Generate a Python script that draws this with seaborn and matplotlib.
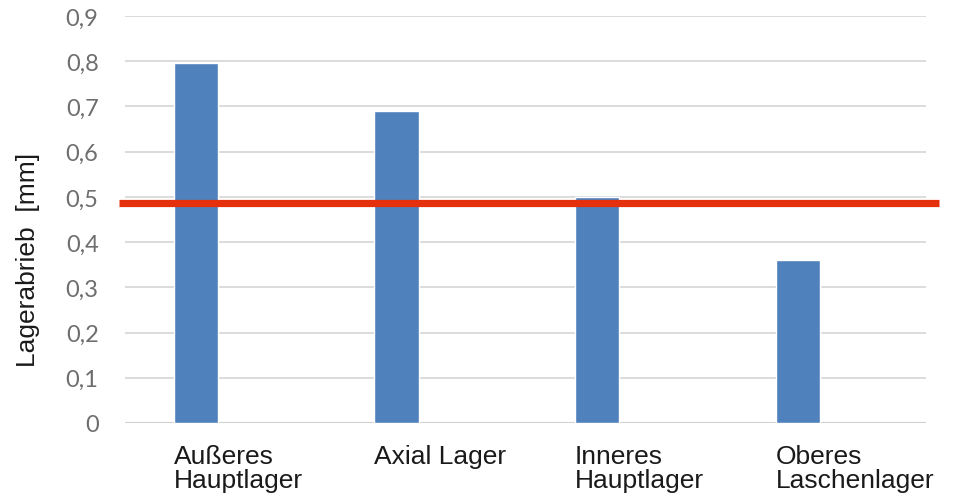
import numpy as np
import pandas as pd
import matplotlib
matplotlib.use("Agg")
import matplotlib.pyplot as plt
import seaborn as sns

# Bearing wear per bearing position
categories = ["Außeres\nHauptlager", "Axial Lager", "Inneres\nHauptlager", "Oberes\nLaschenlager"]
wear_mm = [0.795, 0.69, 0.50, 0.36]
limit_mm = 0.487
y_ticks = [0.0, 0.1, 0.2, 0.3, 0.4, 0.5, 0.6, 0.7, 0.8, 0.9]
y_tick_labels = ["0", "0,1", "0,2", "0,3", "0,4", "0,5", "0,6", "0,7", "0,8", "0,9"]

df = pd.DataFrame({"Lager": categories, "Abrieb": wear_mm})

sns.set_theme(style="white")
plt.rcParams["font.family"] = ["Liberation Sans", "DejaVu Sans"]

W, H = 961, 502
fig = plt.figure(figsize=(W / 100, H / 100), dpi=100)
ax = fig.add_axes([125 / W, (H - 424) / H, (926 - 125) / W, (424 - 17) / H])

bar_w = 0.22
sns.barplot(data=df, x="Lager", y="Abrieb", color="#4F81BD", saturation=1,
            width=bar_w, ax=ax, zorder=3)

ax.set_ylim(0, 0.9)
ax.set_xlim(-0.354, 3.64)
ax.set_yticks(y_ticks)
ax.set_yticklabels(y_tick_labels, fontfamily="Lato", fontsize=17, color="#6E6E6E")
ax.yaxis.grid(True, color="#D9D9D9", linewidth=1.3, zorder=0)
ax.set_axisbelow(True)
for s in ax.spines.values():
    s.set_visible(False)
ax.axhline(0, color="#D0D0D0", linewidth=1.5, zorder=2)

pos = np.arange(len(categories)) - bar_w / 2
ax.set_xticks(pos)
ax.set_xticklabels(categories, ha="left", va="top", fontsize=19, color="#1A1A1A",
                   linespacing=1.02)
ax.tick_params(axis="x", length=0, pad=15)
ax.tick_params(axis="y", length=0, pad=19)
ax.set_xlabel("")

ax.set_ylabel("Lagerabrieb  [mm]", fontsize=19, color="#1A1A1A")
ax.yaxis.set_label_coords(-(125 - 40) / (926 - 125), (424 - 260) / (424 - 17))

# Limit line, slightly extending past the plot area
ax.axhline(limit_mm, xmin=-0.0075, xmax=1.016, color="#E5300E", linewidth=5.2,
           clip_on=False, zorder=4, solid_capstyle="butt")

fig.savefig("out.png", dpi=100)
